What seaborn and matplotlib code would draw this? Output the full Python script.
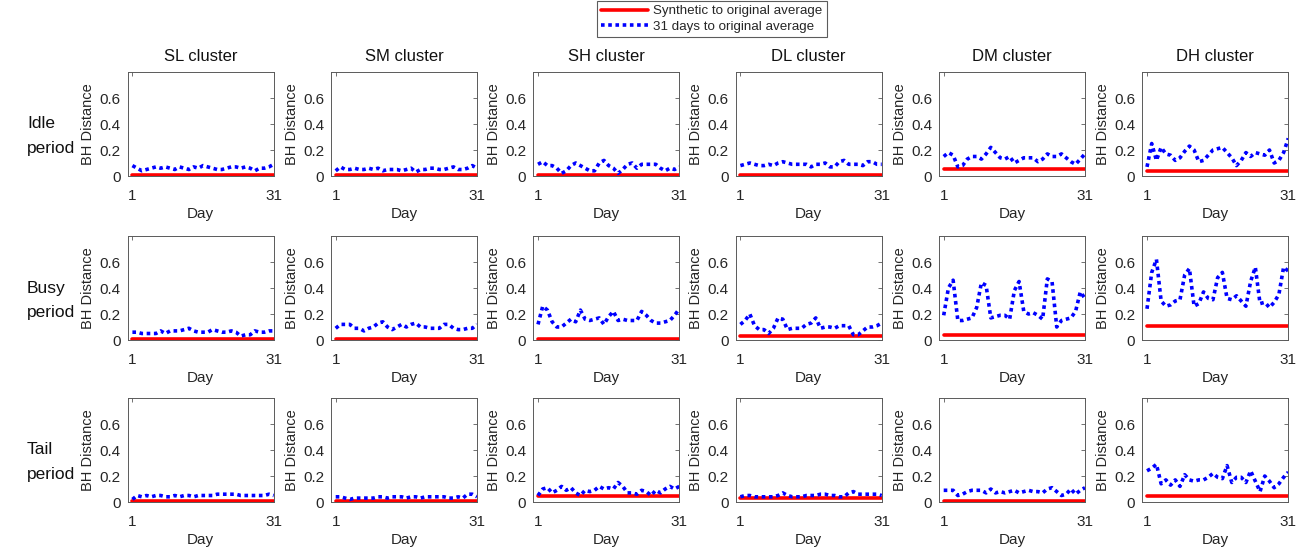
import numpy as np
import pandas as pd
import matplotlib
matplotlib.use("Agg")
import matplotlib.pyplot as plt
import seaborn as sns

clusters = ["SL", "SM", "SH", "DL", "DM", "DH"]
periods = ["Idle", "Busy", "Tail"]
days = list(range(1, 32))

# 31 days to original average (blue dotted), rows = periods, cols = clusters
idle_SL = [0.08,0.06,0.04,0.05,0.06,0.07,0.06,0.07,0.06,0.05,0.07,0.06,0.05,0.07,0.06,0.08,0.07,0.06,0.05,0.05,0.06,0.07,0.07,0.06,0.07,0.06,0.04,0.06,0.06,0.07,0.09]
idle_SM = [0.04,0.07,0.05,0.05,0.06,0.05,0.05,0.06,0.05,0.06,0.04,0.05,0.05,0.05,0.04,0.05,0.06,0.03,0.05,0.05,0.06,0.06,0.05,0.05,0.06,0.07,0.05,0.05,0.06,0.08,0.06]
idle_SH = [0.09,0.11,0.08,0.08,0.06,0.02,0.04,0.08,0.10,0.08,0.06,0.04,0.04,0.10,0.12,0.08,0.06,0.02,0.05,0.09,0.10,0.06,0.09,0.09,0.09,0.09,0.06,0.04,0.06,0.05,0.07]
idle_DL = [0.08,0.09,0.10,0.09,0.08,0.08,0.09,0.08,0.10,0.11,0.10,0.09,0.09,0.09,0.09,0.07,0.09,0.09,0.10,0.07,0.07,0.11,0.12,0.09,0.09,0.09,0.08,0.11,0.11,0.09,0.09]
idle_DM = [0.15,0.18,0.16,0.07,0.08,0.13,0.15,0.15,0.13,0.17,0.22,0.18,0.14,0.13,0.15,0.10,0.12,0.14,0.14,0.14,0.11,0.13,0.17,0.15,0.15,0.17,0.14,0.11,0.09,0.13,0.17]
idle_DH = [0.07,0.25,0.12,0.22,0.17,0.16,0.12,0.14,0.19,0.23,0.20,0.11,0.12,0.16,0.20,0.21,0.22,0.18,0.14,0.08,0.12,0.18,0.15,0.18,0.17,0.16,0.20,0.10,0.12,0.18,0.29]

busy_SL = [0.06,0.06,0.05,0.05,0.05,0.05,0.07,0.05,0.07,0.07,0.07,0.08,0.09,0.07,0.06,0.06,0.06,0.08,0.07,0.06,0.06,0.07,0.06,0.03,0.04,0.04,0.07,0.06,0.06,0.07,0.07]
busy_SM = [0.09,0.12,0.12,0.12,0.09,0.09,0.07,0.09,0.10,0.13,0.14,0.10,0.08,0.10,0.12,0.10,0.12,0.13,0.10,0.10,0.09,0.09,0.09,0.12,0.12,0.09,0.08,0.08,0.09,0.09,0.12]
busy_SH = [0.12,0.26,0.23,0.14,0.10,0.10,0.13,0.16,0.14,0.23,0.16,0.15,0.16,0.17,0.12,0.18,0.22,0.15,0.16,0.15,0.15,0.15,0.22,0.19,0.15,0.13,0.13,0.14,0.15,0.19,0.24]
busy_DL = [0.12,0.15,0.20,0.11,0.08,0.08,0.05,0.09,0.17,0.16,0.08,0.09,0.09,0.09,0.12,0.13,0.17,0.09,0.10,0.10,0.09,0.11,0.11,0.11,0.04,0.04,0.07,0.10,0.10,0.11,0.13]
busy_DM = [0.19,0.40,0.46,0.15,0.15,0.16,0.17,0.25,0.44,0.42,0.17,0.18,0.19,0.19,0.16,0.38,0.45,0.22,0.20,0.21,0.19,0.16,0.47,0.45,0.10,0.15,0.16,0.17,0.22,0.37,0.32]
busy_DH = [0.24,0.52,0.62,0.30,0.26,0.27,0.30,0.31,0.50,0.55,0.26,0.28,0.37,0.32,0.31,0.48,0.52,0.32,0.31,0.34,0.30,0.26,0.45,0.56,0.28,0.29,0.25,0.29,0.35,0.56,0.53]

tail_SL = [0.02,0.05,0.04,0.05,0.04,0.05,0.05,0.04,0.04,0.05,0.04,0.05,0.05,0.04,0.05,0.05,0.05,0.05,0.06,0.06,0.06,0.06,0.06,0.05,0.05,0.05,0.05,0.05,0.05,0.06,0.05]
tail_SM = [0.04,0.04,0.03,0.02,0.03,0.03,0.03,0.03,0.03,0.04,0.04,0.03,0.04,0.04,0.04,0.03,0.04,0.04,0.03,0.04,0.04,0.04,0.04,0.04,0.03,0.03,0.04,0.03,0.06,0.06,0.04]
tail_SH = [0.05,0.10,0.11,0.07,0.09,0.12,0.09,0.11,0.07,0.05,0.09,0.08,0.09,0.12,0.10,0.11,0.10,0.15,0.12,0.07,0.07,0.06,0.09,0.08,0.05,0.09,0.07,0.10,0.12,0.10,0.12]
tail_DL = [0.04,0.05,0.05,0.04,0.04,0.04,0.04,0.04,0.05,0.07,0.05,0.04,0.04,0.04,0.05,0.05,0.05,0.06,0.06,0.05,0.05,0.04,0.04,0.07,0.08,0.06,0.06,0.06,0.06,0.06,0.05]
tail_DM = [0.09,0.09,0.09,0.05,0.06,0.08,0.09,0.09,0.09,0.07,0.10,0.07,0.08,0.07,0.08,0.09,0.07,0.08,0.09,0.08,0.08,0.07,0.10,0.11,0.08,0.05,0.06,0.10,0.06,0.09,0.11]
tail_DH = [0.24,0.26,0.29,0.14,0.17,0.13,0.17,0.12,0.21,0.17,0.16,0.17,0.17,0.19,0.22,0.19,0.18,0.28,0.15,0.19,0.19,0.15,0.24,0.16,0.08,0.20,0.16,0.11,0.14,0.19,0.23]

# Synthetic to original average (red constant), rows = periods, cols = clusters
synth_idle = [0.005, 0.008, 0.008, 0.008, 0.052, 0.040]
synth_busy = [0.008, 0.008, 0.008, 0.033, 0.042, 0.105]
synth_tail = [0.008, 0.010, 0.046, 0.033, 0.008, 0.047]

series = [
    [idle_SL, idle_SM, idle_SH, idle_DL, idle_DM, idle_DH],
    [busy_SL, busy_SM, busy_SH, busy_DL, busy_DM, busy_DH],
    [tail_SL, tail_SM, tail_SH, tail_DL, tail_DM, tail_DH],
]
synth = [synth_idle, synth_busy, synth_tail]

sns.set_style("white")
plt.rcParams["font.family"] = ["Liberation Sans", "DejaVu Sans"]

W, H = 1307, 550
fig = plt.figure(figsize=(W / 100, H / 100), dpi=100)

lefts = [127.7, 331, 533.3, 735.7, 939, 1142.3]
tops = [72, 236, 398]
aw, ah = 146, 104
txt = "#262626"
edge = "#5a5a5a"

handles = None
for r in range(3):
    for c in range(6):
        ax = fig.add_axes([lefts[c] / W, 1 - (tops[r] + ah) / H, aw / W, ah / H])
        red_vals = [synth[r][c]] * len(days)
        sns.lineplot(x=days, y=red_vals, ax=ax, color="#ff0000", linewidth=2.6,
                     label="Synthetic to original average", legend=False)
        sns.lineplot(x=days, y=series[r][c], ax=ax, color="#0000ff", linewidth=2.6,
                     linestyle=(0, (1, 1)), label="31 days to original average", legend=False)
        ax.set_xlim(0, 31)
        ax.set_ylim(0, 0.8)
        ax.set_xticks([1, 31])
        ax.set_xticklabels(["1", "31"])
        ax.set_yticks([0, 0.2, 0.4, 0.6])
        ax.set_yticklabels(["0", "0.2", "0.4", "0.6"])
        ax.tick_params(axis="both", direction="in", length=3, width=0.6, colors=edge,
                       labelcolor=txt, labelsize=11, top=True, right=True)
        ax.tick_params(axis="x", pad=9)
        ax.tick_params(axis="y", pad=5)
        for s in ax.spines.values():
            s.set_color(edge)
            s.set_linewidth(0.7)
        ax.set_ylabel("BH Distance", fontsize=10.5, color=txt, labelpad=3)
        ax.set_xlabel("Day", fontsize=11, color=txt, labelpad=3)
        if r == 0:
            ax.set_title(f"{clusters[c]} cluster", fontsize=12, color="#111111", pad=8)
        if c == 0:
            ymid = 1 - (tops[r] + ah / 2 + 12) / H
            fig.text(27 / W, ymid, f"{periods[r]}\nperiod", fontsize=12.5,
                     ha="left", va="center", color="#111111", linespacing=1.75)
        if handles is None:
            handles = ax.lines[:2]

leg = fig.legend(handles, ["Synthetic to original average", "31 days to original average"],
                 loc="upper center", bbox_to_anchor=(712 / W, 1 - 1 / H), fontsize=9.6,
                 frameon=True, fancybox=False, edgecolor="#333333", handlelength=3.5,
                 borderpad=0.3, labelspacing=0.25, handletextpad=0.4, borderaxespad=0)
leg.get_frame().set_linewidth(0.8)

fig.savefig("out.png", dpi=100)
